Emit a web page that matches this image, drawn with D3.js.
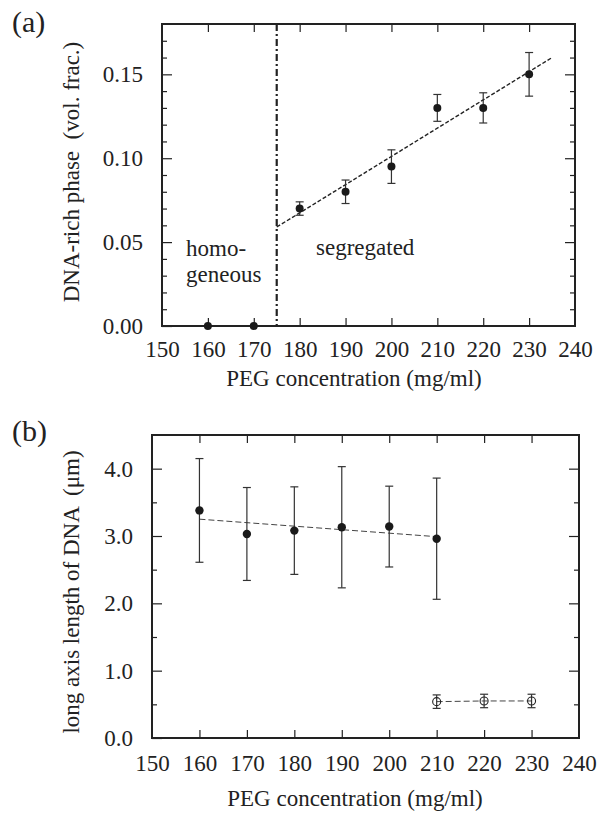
<!DOCTYPE html>
<html>
<head>
<meta charset="utf-8">
<script src="https://cdn.jsdelivr.net/npm/d3@7"></script>
<style>
  body { margin: 0; background: #fff; }
  svg text { font-family: "Liberation Serif", "DejaVu Serif", serif; fill: #222; }
  .axis path { display: none; }
  .axis line { stroke: #222; stroke-width: 1.2; }
</style>
</head>
<body>
<div id="chart"></div>
<script>
// panel (a): DNA-rich phase volume fraction
const pegA = [160, 170, 180, 190, 200, 210, 220, 230];
const phaseA = [0, 0, 0.070, 0.080, 0.095, 0.130, 0.130, 0.150];
const errA = [0, 0, 0.004, 0.007, 0.010, 0.008, 0.009, 0.013];
const fitA = [[175, 0.059], [235, 0.160]];
const boundaryA = 175;

// panel (b): long axis length of DNA
const pegB = [160, 170, 180, 190, 200, 210];
const lengthB = [3.38, 3.03, 3.08, 3.13, 3.14, 2.96];
const errB = [0.77, 0.69, 0.65, 0.90, 0.60, 0.90];
const fitB = [[160, 3.25], [210, 2.99]];
const pegOpen = [210, 220, 230];
const lengthOpen = [0.54, 0.55, 0.55];
const errOpen = [0.10, 0.10, 0.10];

const xTicks = [150, 160, 170, 180, 190, 200, 210, 220, 230, 240];
const yTicksA = [0.00, 0.05, 0.10, 0.15];
const yTicksB = [0.0, 1.0, 2.0, 3.0, 4.0];

const FONT = '"Liberation Serif", "DejaVu Serif", serif';

const svg = d3.select('#chart')
  .append('svg')
  .attr('width', 600)
  .attr('height', 819)
  .attr('font-family', FONT);

function drawFrame(g, x, y, opts) {
  const w = x.range()[1] - x.range()[0];
  const h = y.range()[0] - y.range()[1];
  const topTicks = xTicks.slice(1, -1);

  // bottom axis with labels
  g.append('g')
    .attr('class', 'axis')
    .attr('transform', `translate(0,${h})`)
    .call(d3.axisBottom(x).tickValues(xTicks).tickSize(-8).tickPadding(opts.xPad).tickFormat(d3.format('d')))
    .attr('font-family', FONT)
    .attr('font-size', 23)
    .call(s => s.selectAll('.tick').filter(d => d === 150 || d === 240).select('line').remove());

  g.append('g')
    .attr('class', 'axis')
    .call(d3.axisTop(x).tickValues(topTicks).tickSize(-8).tickFormat(''));

  // left axis with labels + minor ticks
  g.append('g')
    .attr('class', 'axis')
    .call(d3.axisLeft(y).tickValues(opts.yTicks).tickSize(-10).tickPadding(opts.yPad).tickFormat(d3.format(opts.yFmt)))
    .attr('font-family', FONT)
    .attr('font-size', 23);

  g.append('g')
    .attr('class', 'axis')
    .call(d3.axisLeft(y).tickValues(opts.minor).tickSize(-5).tickFormat(''));

  g.append('g')
    .attr('class', 'axis')
    .attr('transform', `translate(${w},0)`)
    .call(d3.axisRight(y).tickValues(opts.yTicks.filter(d => d > 0)).tickSize(-10).tickFormat(''));

  g.append('g')
    .attr('class', 'axis')
    .attr('transform', `translate(${w},0)`)
    .call(d3.axisRight(y).tickValues(opts.minor).tickSize(-5).tickFormat(''));

  g.append('rect')
    .attr('width', w)
    .attr('height', h)
    .attr('fill', 'none')
    .attr('stroke', '#222')
    .attr('stroke-width', 2);
}

function errorBars(g, x, y, xs, ys, es, capW) {
  xs.forEach((d, i) => {
    if (!es[i]) return;
    const cx = x(d);
    const yTop = y(ys[i] + es[i]);
    const yBot = y(ys[i] - es[i]);
    g.append('line').attr('x1', cx).attr('x2', cx).attr('y1', yTop).attr('y2', yBot)
      .attr('stroke', '#333').attr('stroke-width', 1.2);
    [yTop, yBot].forEach(yy => {
      g.append('line').attr('x1', cx - capW).attr('x2', cx + capW).attr('y1', yy).attr('y2', yy)
        .attr('stroke', '#333').attr('stroke-width', 1.2);
    });
  });
}

// ---------- panel (a)
const mA = { left: 162, top: 24, right: 575, bottom: 326 };
const xA = d3.scaleLinear().domain([150, 240]).range([0, mA.right - mA.left]);
const yA = d3.scaleLinear().domain([0, 0.18]).range([mA.bottom - mA.top, 0]);
const gA = svg.append('g').attr('transform', `translate(${mA.left},${mA.top})`);

drawFrame(gA, xA, yA, {
  yTicks: yTicksA,
  minor: d3.range(1, 18).map(i => i / 100).filter(v => Math.round(v * 100) % 5 !== 0),
  yFmt: '.2f',
  yPad: 19,
  xPad: 15,
});

gA.append('line')
  .attr('x1', xA(boundaryA)).attr('x2', xA(boundaryA))
  .attr('y1', 0).attr('y2', yA(0))
  .attr('stroke', '#222')
  .attr('stroke-width', 2.2)
  .attr('stroke-dasharray', '7,3,2,3');

gA.append('path')
  .datum(fitA)
  .attr('d', d3.line().x(d => xA(d[0])).y(d => yA(d[1])))
  .attr('fill', 'none')
  .attr('stroke', '#222')
  .attr('stroke-width', 1.4)
  .attr('stroke-dasharray', '4,2');

errorBars(gA, xA, yA, pegA, phaseA, errA, 4);

gA.selectAll('.dot')
  .data(pegA)
  .enter()
  .append('circle')
  .attr('class', 'dot')
  .attr('cx', d => xA(d))
  .attr('cy', (d, i) => yA(phaseA[i]))
  .attr('r', 4)
  .attr('fill', '#1a1a1a');

gA.append('text').attr('x', 24).attr('y', 232).attr('font-size', 23).text('homo-');
gA.append('text').attr('x', 24).attr('y', 258).attr('font-size', 23).text('geneous');
gA.append('text').attr('x', 154).attr('y', 231).attr('font-size', 23).text('segregated');

svg.append('text')
  .attr('x', 354).attr('y', 386)
  .attr('text-anchor', 'middle')
  .attr('font-size', 23)
  .text('PEG concentration (mg/ml)');

svg.append('text')
  .attr('transform', 'rotate(-90)')
  .attr('x', -172).attr('y', 79)
  .attr('text-anchor', 'middle')
  .attr('font-size', 23)
  .style('white-space', 'pre')
  .text('DNA-rich phase  (vol. frac.)');

svg.append('text').attr('x', 12).attr('y', 32).attr('font-size', 30).text('(a)');

// ---------- panel (b)
const mB = { left: 152, top: 435, right: 579, bottom: 738 };
const xB = d3.scaleLinear().domain([150, 240]).range([0, mB.right - mB.left]);
const yB = d3.scaleLinear().domain([0, 4.5]).range([mB.bottom - mB.top, 0]);
const gB = svg.append('g').attr('transform', `translate(${mB.left},${mB.top})`);

drawFrame(gB, xB, yB, {
  yTicks: yTicksB,
  minor: [0.5, 1.5, 2.5, 3.5],
  yFmt: '.1f',
  yPad: 19,
  xPad: 17,
});

gB.append('path')
  .datum(fitB)
  .attr('d', d3.line().x(d => xB(d[0])).y(d => yB(d[1])))
  .attr('fill', 'none')
  .attr('stroke', '#444')
  .attr('stroke-width', 1)
  .attr('stroke-dasharray', '6,3');

gB.append('path')
  .datum(pegOpen.map((d, i) => [d, lengthOpen[i]]))
  .attr('d', d3.line().x(d => xB(d[0])).y(d => yB(d[1])))
  .attr('fill', 'none')
  .attr('stroke', '#444')
  .attr('stroke-width', 1)
  .attr('stroke-dasharray', '6,3');

errorBars(gB, xB, yB, pegB, lengthB, errB, 4);
errorBars(gB, xB, yB, pegOpen, lengthOpen, errOpen, 4);

gB.selectAll('.dot')
  .data(pegB)
  .enter()
  .append('circle')
  .attr('class', 'dot')
  .attr('cx', d => xB(d))
  .attr('cy', (d, i) => yB(lengthB[i]))
  .attr('r', 4.2)
  .attr('fill', '#1a1a1a');

gB.selectAll('.open')
  .data(pegOpen)
  .enter()
  .append('circle')
  .attr('class', 'open')
  .attr('cx', d => xB(d))
  .attr('cy', (d, i) => yB(lengthOpen[i]))
  .attr('r', 4)
  .attr('fill', 'none')
  .attr('stroke', '#222')
  .attr('stroke-width', 1.1);

svg.append('text')
  .attr('x', 355).attr('y', 806)
  .attr('text-anchor', 'middle')
  .attr('font-size', 23)
  .text('PEG concentration (mg/ml)');

svg.append('text')
  .attr('transform', 'rotate(-90)')
  .attr('x', -592).attr('y', 79)
  .attr('text-anchor', 'middle')
  .attr('font-size', 23)
  .style('white-space', 'pre')
  .text('long axis length of DNA  (\u03bcm)');

svg.append('text').attr('x', 12).attr('y', 441).attr('font-size', 30).text('(b)');
</script>
</body>
</html>
